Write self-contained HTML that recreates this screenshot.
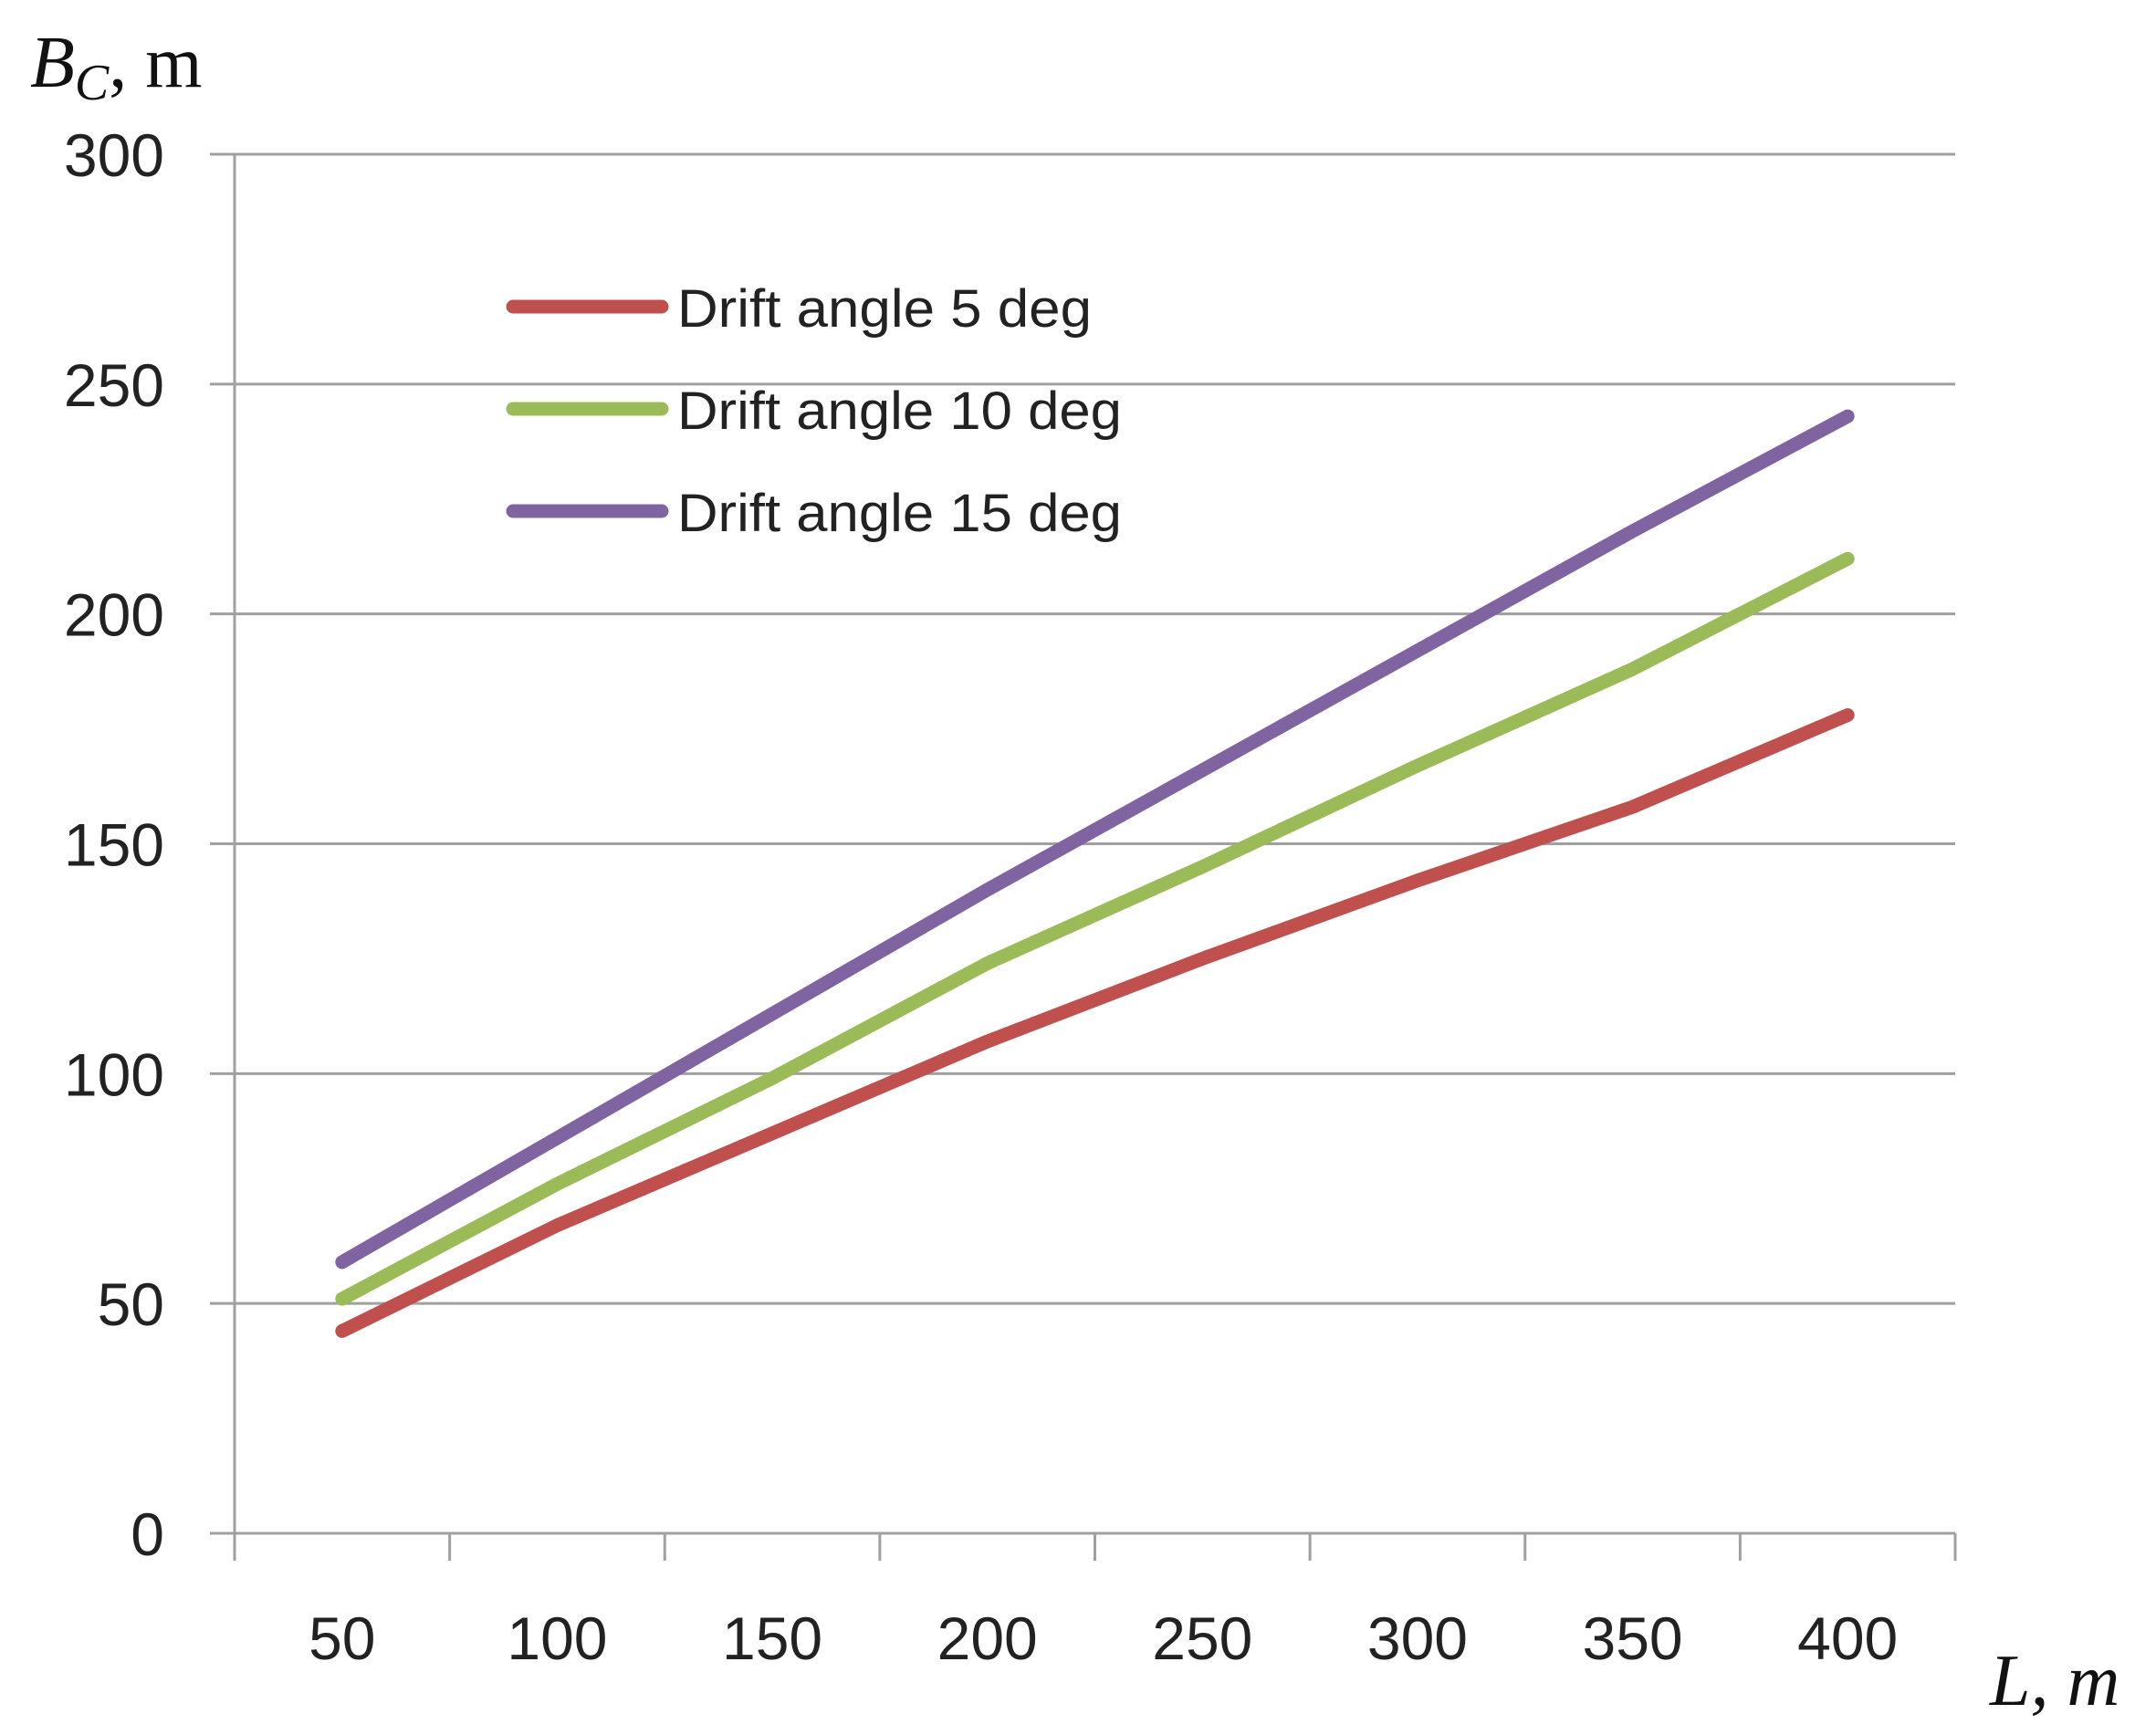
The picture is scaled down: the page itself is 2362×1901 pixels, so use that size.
<!DOCTYPE html>
<html><head><meta charset="utf-8"><style>
body{margin:0;background:#fff}
svg{display:block}
</style></head><body>
<svg id="chart" width="2362" height="1901" viewBox="0 0 2362 1901" font-family="Liberation Sans, sans-serif">
<g id="grid"></g><g id="axes"></g><g id="series"></g>
<text x="33" y="95" style="font-family:'Liberation Serif',serif;font-style:italic" font-size="80" fill="#111">B<tspan font-size="56" dy="14">C</tspan><tspan dy="-14" style="font-style:normal">, m</tspan></text>
<text x="2180" y="1868" style="font-family:'Liberation Serif',serif;font-style:italic" font-size="80" fill="#111">L, m</text>
<g id="legend"></g>
</svg>
<script>
const categories=[50,100,150,200,250,300,350,400];
const seriesNames=["Drift angle 5 deg","Drift angle 10 deg","Drift angle 15 deg"];
const s5=[44,67,87,107,125,142,158,178];
const s10=[51,76,99,124,145,167,188,212];
const s15=[59,86,113,140,166,192,218,243];
const yTicks=[0,50,100,150,200,250,300];
const colors=["#c0504d","#9bbb59","#8064a2"];
const NS="http://www.w3.org/2000/svg";
const L=257,R=2142,T=169,B=1680,yMax=300;
const bw=(R-L)/categories.length;
const xS=i=>L+bw*(i+0.5);
const yS=v=>B-(v/yMax)*(B-T);
function mk(tag,attrs,parent){const e=document.createElementNS(NS,tag);for(const k in attrs)e.setAttribute(k,attrs[k]);parent.appendChild(e);return e;}
const grid=document.getElementById('grid'),axes=document.getElementById('axes'),ser=document.getElementById('series'),leg=document.getElementById('legend');
yTicks.forEach(t=>{
 const y=yS(t);
 const g=mk('line',{x1:230,x2:R,y1:y,y2:y,stroke:'#a0a0a0','stroke-width':3},grid);
 
 
 const tx=mk('text',{x:180,y:y+24,'text-anchor':'end','font-size':66,fill:'#222'},axes);
 tx.textContent=t;
 
 
});
const ya=mk('line',{x1:L,x2:L,y1:T,y2:B,stroke:'#a0a0a0','stroke-width':3},axes);


for(let i=0;i<=categories.length;i++){
 const x=L+bw*i;
 const tk=mk('line',{x1:x,x2:x,y1:B,y2:B+30,stroke:'#a0a0a0','stroke-width':3},axes);
 
 
}
categories.forEach((c,i)=>{
 const tx=mk('text',{x:xS(i),y:1818,'text-anchor':'middle','font-size':66,fill:'#222'},axes);
 tx.textContent=c;
 
 
});
const legW=[454,487,487];
[s5,s10,s15].forEach((s,k)=>{
 const p=mk('polyline',{points:s.map((v,i)=>xS(i)+','+yS(v)).join(' '),fill:'none',stroke:colors[k],'stroke-width':15,'stroke-linejoin':'round','stroke-linecap':'round'},ser);
 
 
 const ly=336+k*112;
 const ll=mk('line',{x1:562,x2:725,y1:ly,y2:ly,stroke:colors[k],'stroke-width':15,'stroke-linecap':'round'},leg);
 
 
 const lt=mk('text',{x:742,y:ly+22,'font-size':58,fill:'#222',textLength:legW[k],lengthAdjust:'spacingAndGlyphs'},leg);
 lt.textContent=seriesNames[k];
 
 
});
</script>
</body></html>
